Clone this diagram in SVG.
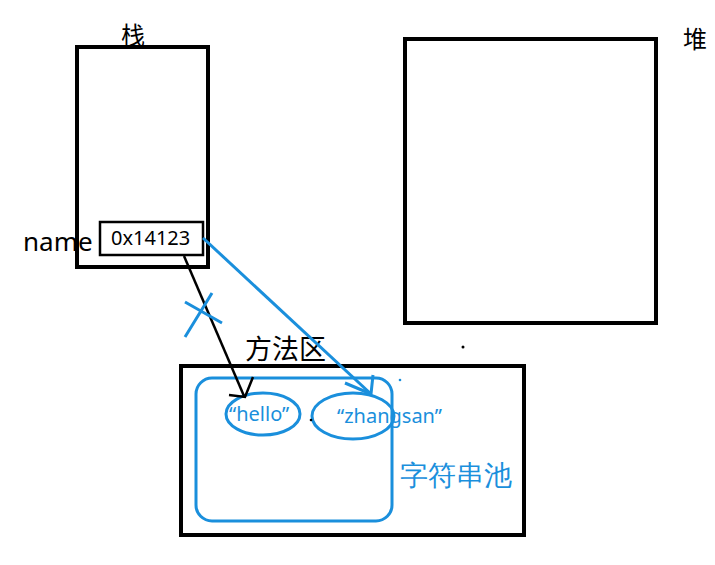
<svg xmlns="http://www.w3.org/2000/svg" width="715" height="565" viewBox="0 0 715 565">
<style>
.box{fill:none;stroke:#000;stroke-width:4}
.blue{fill:none;stroke:#1a8fdc;stroke-width:3}
.t{font-family:"Noto Sans CJK SC","Noto Sans",sans-serif;fill:#000}
.lt{font-family:"Noto Sans","Liberation Sans",sans-serif;fill:#000}
.bt{font-family:"Noto Sans","Liberation Sans",sans-serif;fill:#1a8fdc}
</style>
<rect width="715" height="565" fill="#fff"/>
<g id="stack">
<rect class="box" x="77" y="47" width="131" height="220"/>
<text class="t" x="121" y="44" font-size="24">栈</text>
</g>
<g id="heap">
<rect class="box" x="405" y="39" width="251" height="284"/>
<text class="t" x="683" y="48" font-size="24">堆</text>
</g>
<g id="name">
<text class="lt" x="23" y="251" font-size="26">name</text>
<rect x="100" y="222" width="103" height="33" fill="#fff" stroke="#000" stroke-width="2.5"/>
<text class="lt" x="111" y="245" font-size="20">0x14123</text>
</g>
<g id="method">
<rect class="box" x="181" y="366" width="343" height="169"/>
<text class="t" x="245" y="359" font-size="27">方法区</text>
</g>
<g id="pool">
<rect class="blue" x="196" y="378" width="196" height="143" rx="16"/>
<text class="bt" x="400" y="485" font-size="28" font-family="Noto Sans CJK SC">字符串池</text>
</g>
<g id="hello">
<ellipse class="blue" cx="263" cy="414" rx="37" ry="21"/>
<text class="bt" x="229" y="421" font-size="20">“hello”</text>
</g>
<g id="zhangsan">
<ellipse class="blue" cx="353" cy="416" rx="41" ry="23"/>
<text class="bt" x="337" y="423" font-size="20">“zhangsan”</text>
</g>
<g id="connectors">
<path d="M184 256 L244 396" stroke="#000" stroke-width="2.5" fill="none"/>
<path d="M229 395 L245 397 L253 377" stroke="#000" stroke-width="2.5" fill="none"/>
<path d="M203 238 L371 394" class="blue" stroke-width="2.5"/>
<path d="M345 383 L371 394 L373 375" class="blue" stroke-width="2.5"/>
<path d="M185 302 L222 323 M212 293 L185 337" class="blue" stroke-width="2.5"/>
</g>
<circle cx="463" cy="347" r="1.5" fill="#000"/>
<circle cx="400" cy="380" r="1.3" fill="#1a8fdc"/>
<circle cx="311" cy="420" r="1.3" fill="#000"/>
</svg>
